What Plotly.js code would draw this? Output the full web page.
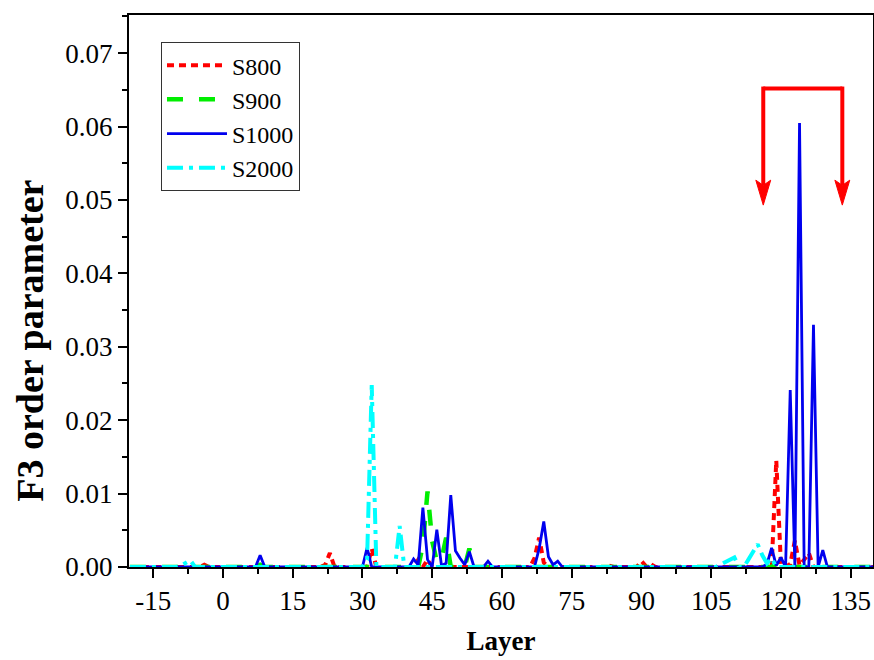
<!DOCTYPE html>
<html>
<head>
<meta charset="utf-8">
<script src="https://cdn.plot.ly/plotly-3.0.1.min.js"></script>
<style>html,body{margin:0;padding:0;background:#fff;}#chart{width:874px;height:660px;}</style>
</head>
<body>
<div id="chart"></div>
<script>
// Series names
const seriesNames = ["S800", "S900", "S1000", "S2000"];

// S800
const s800Layer = [-20, -5, -4, -3, 21, 22, 23, 24, 31, 32, 33, 41, 42, 43, 44, 45, 66, 67, 68, 69, 70, 82, 83, 84, 89, 90, 91, 92, 93, 117, 118, 119, 120, 121, 122, 123, 124, 125, 126, 127, 140];
const s800Value = [0, 0, 0.0003, 0, 0, 0.0003, 0.0019, 0, 0, 0.0025, 0, 0, 0.001, 0, 0.001, 0, 0, 0.0012, 0.004, 0.0006, 0, 0, 0.0002, 0, 0, 0.0008, 0.0001, 0.0004, 0, 0, 0, 0.0145, 0.0003, 0, 0.0004, 0.0036, 0.0002, 0.001, 0.0019, 0, 0];

// S900
const s900Layer = [-20, 7, 8, 9, 42, 43, 44, 45, 46, 47, 48, 49, 52, 53, 54, 118, 119, 120, 126, 127, 128, 140];
const s900Value = [0, 0, 0.0003, 0, 0, 0.003, 0.0103, 0.0035, 0.0008, 0.001, 0.004, 0, 0, 0.0025, 0, 0, 0.0004, 0, 0, 0.0003, 0, 0];

// S1000
const s1000Layer = [-20, 7, 8, 9, 30, 31, 32, 40, 41, 42, 43, 44, 45, 46, 47, 48, 49, 50, 51, 52, 53, 54, 56, 57, 58, 67, 68, 69, 70, 71, 72, 73, 116, 117, 118, 119, 120, 121, 122, 123, 124, 125, 126, 127, 128, 129, 130, 140];
const s1000Value = [0, 0, 0.0016, 0, 0, 0.0026, 0, 0, 0.0011, 0.0003, 0.0081, 0.001, 0, 0.0051, 0.0002, 0.0005, 0.0098, 0.0022, 0.0012, 0.0003, 0.0021, 0, 0, 0.0008, 0, 0, 0.0025, 0.0062, 0.0014, 0.0003, 0.0008, 0, 0, 0.0004, 0.0026, 0.0002, 0.0013, 0, 0.0241, 0, 0.0605, 0, 0, 0.033, 0, 0.0023, 0, 0];

// S2000
const s2000Layer = [-20, -10, -9, -8, -7, -6, 30, 31, 32, 33, 37, 38, 39, 106, 107, 108, 109, 110, 111, 112, 113, 114, 115, 116, 117, 118, 119, 140];
const s2000Value = [0, 0, 0.0002, 0.0005, 0.0009, 0, 0, 0.001, 0.0248, 0, 0, 0.0056, 0, 0, 0.0003, 0.0006, 0.001, 0.0013, 0, 0, 0.001, 0.002, 0.0031, 0.0016, 0.0005, 0.0012, 0, 0];

// Axis ticks
const xTickVals = [-15, 0, 15, 30, 45, 60, 75, 90, 105, 120, 135];
const xTickText = ["-15", "0", "15", "30", "45", "60", "75", "90", "105", "120", "135"];
const yTickVals = [0, 0.01, 0.02, 0.03, 0.04, 0.05, 0.06, 0.07];
const yTickText = ["0.00", "0.01", "0.02", "0.03", "0.04", "0.05", "0.06", "0.07"];

// Bracket annotation (data coordinates)
const bracketLeft = 116.2, bracketRight = 133.2, bracketTop = 0.0652, bracketTip = 0.0493;
const headLen = 0.0034, headNotch = 0.0027, headHalf = 1.6;

const serif = "Liberation Serif";

function headPath(xc) {
  return "M" + xc + "," + bracketTip +
    " L" + (xc - headHalf) + "," + (bracketTip + headLen) +
    " L" + xc + "," + (bracketTip + headNotch) +
    " L" + (xc + headHalf) + "," + (bracketTip + headLen) + " Z";
}

const traces = [
  {x: s800Layer, y: s800Value, name: seriesNames[0], mode: "lines",
   line: {color: "#ff0000", width: 4, dash: "7px,5px"}},
  {x: s900Layer, y: s900Value, name: seriesNames[1], mode: "lines",
   line: {color: "#00ee00", width: 4.5, dash: "16px,16px"}},
  {x: s1000Layer, y: s1000Value, name: seriesNames[2], mode: "lines",
   line: {color: "#0000ee", width: 2.8}},
  {x: s2000Layer, y: s2000Value, name: seriesNames[3], mode: "lines",
   line: {color: "#00ffff", width: 4, dash: "16px,6px,4px,6px"}}
];

const red = "#ff0000";
const layout = {
  width: 874, height: 660,
  margin: {l: 129, r: 1, t: 15, b: 93},
  paper_bgcolor: "#fff", plot_bgcolor: "#fff",
  font: {family: serif, color: "#000"},
  showlegend: true,
  legend: {x: 0.043, y: 0.951, xanchor: "left", yanchor: "top",
    bordercolor: "#333", borderwidth: 1, bgcolor: "rgba(255,255,255,0)",
    font: {family: serif, size: 24, color: "#000"}, itemwidth: 60, tracegroupgap: 0},
  xaxis: {
    range: [-20.2, 139.8], tickvals: xTickVals, ticktext: xTickText, ticks: "outside", ticklen: 9, tickwidth: 2,
    tickcolor: "#000", showline: true, linecolor: "#000", linewidth: 2, mirror: true,
    showgrid: false, zeroline: false,
    tickfont: {family: serif, size: 27, color: "#000"},
    minor: {dtick: 7.5, tick0: 0, ticks: "outside", ticklen: 5, tickwidth: 2, tickcolor: "#000", showgrid: false},
    title: {text: "<b>Layer</b>", font: {family: serif, size: 27, color: "#000"}, standoff: 16}
  },
  yaxis: {
    range: [0, 0.0752], tickvals: yTickVals, ticktext: yTickText, ticks: "outside", ticklen: 9, tickwidth: 2,
    tickcolor: "#000", showline: true, linecolor: "#000", linewidth: 2, mirror: true,
    showgrid: false, zeroline: false,
    tickfont: {family: serif, size: 27, color: "#000"},
    minor: {dtick: 0.005, tick0: 0, ticks: "outside", ticklen: 5, tickwidth: 2, tickcolor: "#000", showgrid: false}
  },
  shapes: [
    {type: "line", xref: "x", yref: "y", x0: bracketLeft, x1: bracketRight, y0: bracketTop, y1: bracketTop,
     line: {color: red, width: 4}},
    {type: "line", xref: "x", yref: "y", x0: bracketLeft, x1: bracketLeft, y0: bracketTop + 0.00025, y1: bracketTip + headNotch,
     line: {color: red, width: 4}},
    {type: "line", xref: "x", yref: "y", x0: bracketRight, x1: bracketRight, y0: bracketTop + 0.00025, y1: bracketTip + headNotch,
     line: {color: red, width: 4}},
    {type: "path", xref: "x", yref: "y", path: headPath(bracketLeft), fillcolor: red, line: {color: red, width: 1}},
    {type: "path", xref: "x", yref: "y", path: headPath(bracketRight), fillcolor: red, line: {color: red, width: 1}}
  ],
  annotations: [
    {xref: "paper", yref: "paper", x: -0.133, y: 0.41, xanchor: "center", yanchor: "middle",
     text: "<b>F3 order parameter</b>", textangle: -90, showarrow: false,
     font: {family: serif, size: 38, color: "#000"}}
  ]
};

Plotly.newPlot("chart", traces, layout, {staticPlot: true, displayModeBar: false});
</script>
</body>
</html>
